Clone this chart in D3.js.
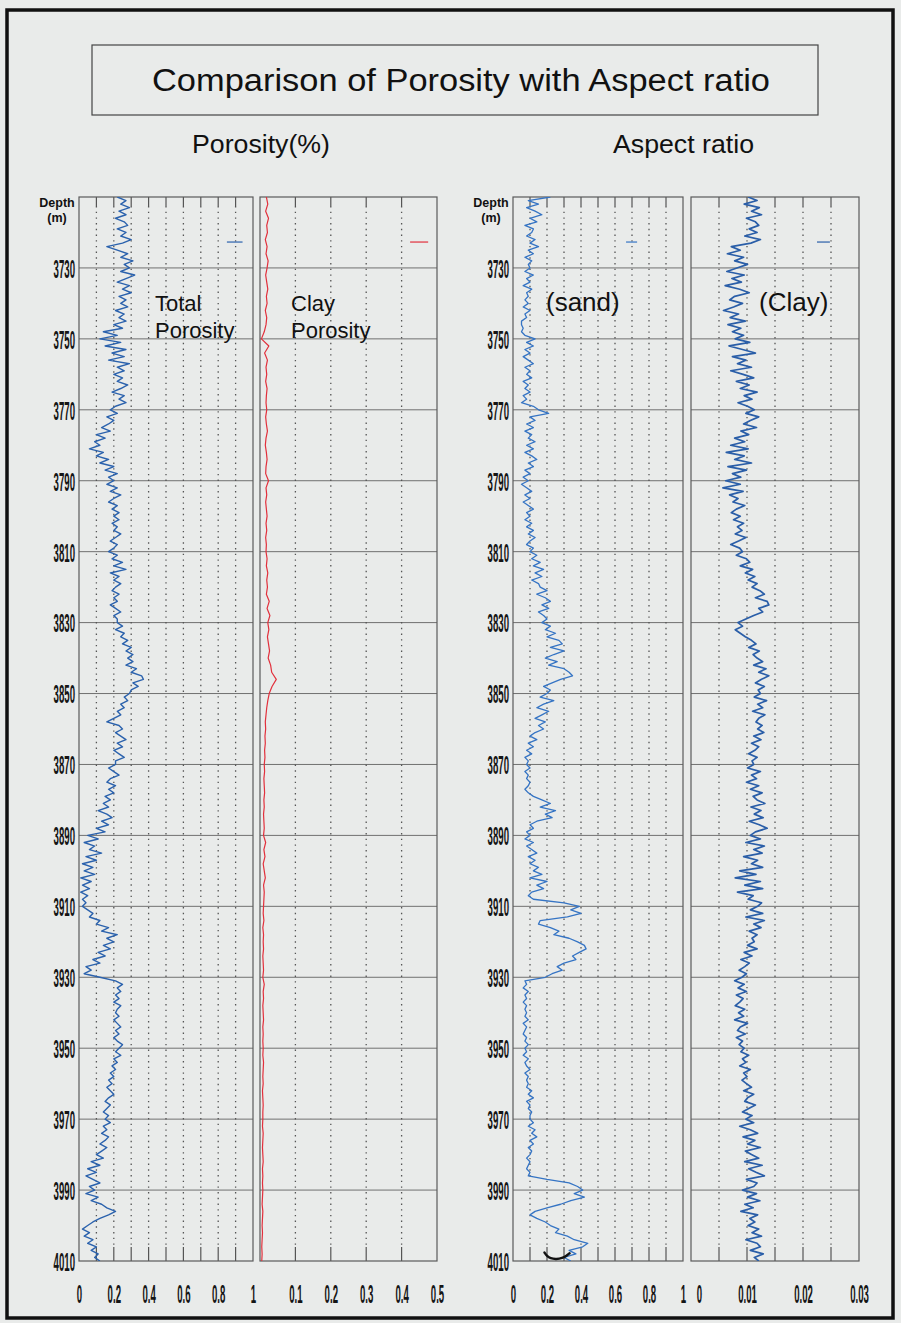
<!DOCTYPE html>
<html lang="en">
<head>
<meta charset="UTF-8">
<title>Comparison of Porosity with Aspect ratio</title>
<style>
  html, body { margin: 0; padding: 0; background: #e9ebea; }
  svg { display: block; font-family: "Liberation Sans", Arial, sans-serif; }
  .grid-h { stroke: #707070; stroke-width: 1; }
  .grid-v { stroke: #555; stroke-width: 1.3; stroke-dasharray: 1.4 4.3; }
  .tick-mark { stroke: #555; stroke-width: 1.2; }
  .track-box { fill: none; stroke: #5a5a5a; stroke-width: 1.2; }
  .num { font-weight: bold; font-size: 26px; fill: #151515; }
</style>
</head>
<body>
<svg width="901" height="1323"></svg>
<script src="https://d3js.org/d3.v7.min.js"></script>
<script>
const width = 901, height = 1323;

// depth sampling (m)
const depth1m = d3.range(3710, 4011, 1);
const depth2m = d3.range(3710, 4011, 2);
const depthTicks = [3730, 3750, 3770, 3790, 3810, 3830, 3850, 3870, 3890, 3910, 3930, 3950, 3970, 3990, 4010];
const depthGrid = [3730, 3750, 3770, 3790, 3810, 3830, 3850, 3870, 3890, 3910, 3930, 3950, 3970, 3990];

// total porosity, 1 m steps from 3710
const totalPorosity = [
  0.22,0.27,0.24,0.29,0.23,0.27,0.21,0.26,0.28,0.22,
  0.27,0.24,0.30,0.25,0.16,0.22,0.28,0.24,0.31,0.26,
  0.29,0.24,0.32,0.27,0.22,0.29,0.25,0.30,0.23,0.27,
  0.24,0.28,0.21,0.26,0.23,0.27,0.20,0.25,0.14,0.22,
  0.12,0.24,0.15,0.27,0.19,0.26,0.17,0.29,0.22,0.26,
  0.20,0.25,0.22,0.28,0.24,0.19,0.26,0.23,0.27,0.21,
  0.18,0.22,0.16,0.20,0.17,0.13,0.18,0.10,0.15,0.09,
  0.12,0.06,0.14,0.10,0.17,0.12,0.20,0.15,0.22,0.17,
  0.20,0.16,0.22,0.18,0.24,0.20,0.17,0.22,0.19,0.23,
  0.20,0.23,0.19,0.22,0.20,0.24,0.21,0.18,0.22,0.20,
  0.17,0.22,0.19,0.25,0.20,0.27,0.18,0.23,0.20,0.24,
  0.21,0.19,0.23,0.20,0.22,0.18,0.21,0.24,0.20,0.22,
  0.22,0.25,0.21,0.26,0.24,0.28,0.25,0.30,0.27,0.31,
  0.28,0.31,0.27,0.33,0.30,0.36,0.37,0.31,0.34,0.30,
  0.29,0.26,0.28,0.24,0.26,0.22,0.24,0.20,0.16,0.23,
  0.25,0.21,0.24,0.27,0.22,0.25,0.20,0.23,0.26,0.21,
  0.21,0.17,0.20,0.23,0.18,0.16,0.21,0.17,0.20,0.15,
  0.18,0.14,0.17,0.11,0.16,0.19,0.13,0.17,0.10,0.15,
  0.05,0.11,0.03,0.09,0.06,0.13,0.04,0.10,0.02,0.08,
  0.03,0.09,0.01,0.07,0.02,0.06,0.01,0.05,0.02,0.04,
  0.02,0.05,0.08,0.06,0.12,0.10,0.17,0.13,0.22,0.16,
  0.20,0.14,0.18,0.11,0.15,0.08,0.12,0.04,0.07,0.03,
  0.12,0.21,0.25,0.22,0.24,0.21,0.23,0.20,0.24,0.22,
  0.21,0.23,0.20,0.22,0.24,0.21,0.23,0.20,0.22,0.25,
  0.23,0.21,0.24,0.20,0.22,0.19,0.21,0.18,0.20,0.17,
  0.19,0.16,0.18,0.20,0.17,0.15,0.18,0.16,0.14,0.17,
  0.15,0.18,0.14,0.16,0.13,0.17,0.15,0.12,0.16,0.13,
  0.10,0.14,0.07,0.12,0.05,0.10,0.04,0.08,0.12,0.06,
  0.09,0.04,0.11,0.07,0.13,0.16,0.21,0.17,0.12,0.08,
  0.05,0.02,0.06,0.03,0.08,0.05,0.10,0.07,0.11,0.09,0.12
];

// clay porosity, 2 m steps from 3710
const clayPorosity = [
  0.018,0.022,0.016,0.024,0.019,0.021,0.015,0.020,0.017,0.023,
  0.020,0.016,0.019,0.022,0.018,0.020,0.015,0.019,0.017,0.012,
  0.004,0.025,0.013,0.021,0.017,0.019,0.016,0.020,0.018,0.017,
  0.019,0.016,0.018,0.021,0.017,0.015,0.018,0.020,0.017,0.016,
  0.024,0.017,0.019,0.016,0.018,0.020,0.017,0.019,0.016,0.018,
  0.017,0.020,0.018,0.022,0.019,0.021,0.018,0.026,0.020,0.028,
  0.022,0.025,0.021,0.024,0.027,0.023,0.030,0.033,0.046,0.034,
  0.026,0.022,0.019,0.017,0.015,0.016,0.014,0.015,0.013,0.014,
  0.012,0.013,0.011,0.012,0.013,0.011,0.012,0.010,0.011,0.012,
  0.010,0.016,0.011,0.014,0.009,0.012,0.015,0.010,0.012,0.011,
  0.010,0.009,0.011,0.008,0.010,0.009,0.010,0.008,0.009,0.010,
  0.008,0.012,0.009,0.010,0.008,0.009,0.010,0.008,0.009,0.008,
  0.009,0.008,0.010,0.009,0.008,0.009,0.007,0.008,0.009,0.008,
  0.008,0.007,0.009,0.008,0.007,0.008,0.009,0.007,0.008,0.007,
  0.008,0.007,0.006,0.008,0.007,0.006,0.007,0.006,0.005,0.006,
  0.005
];

// sand aspect ratio, 1 m steps from 3710
const sandAspect = [
  0.22,0.09,0.15,0.08,0.13,0.17,0.10,0.14,0.07,0.12,
  0.11,0.08,0.13,0.10,0.15,0.09,0.12,0.07,0.11,0.09,
  0.10,0.07,0.12,0.08,0.10,0.06,0.11,0.08,0.09,0.07,
  0.09,0.06,0.10,0.07,0.08,0.05,0.05,0.06,0.05,0.07,
  0.13,0.08,0.12,0.07,0.10,0.06,0.09,0.12,0.07,0.10,
  0.08,0.11,0.06,0.09,0.07,0.10,0.06,0.08,0.05,0.12,
  0.15,0.21,0.10,0.13,0.08,0.12,0.07,0.11,0.09,0.13,
  0.08,0.12,0.07,0.11,0.14,0.09,0.12,0.07,0.10,0.06,
  0.09,0.05,0.08,0.11,0.07,0.10,0.06,0.09,0.12,0.08,
  0.10,0.07,0.11,0.08,0.12,0.09,0.13,0.10,0.08,0.12,
  0.10,0.14,0.11,0.16,0.12,0.18,0.13,0.17,0.11,0.15,
  0.16,0.20,0.14,0.19,0.22,0.17,0.21,0.15,0.18,0.20,
  0.17,0.22,0.19,0.25,0.20,0.27,0.29,0.22,0.30,0.24,
  0.19,0.26,0.21,0.30,0.33,0.35,0.28,0.23,0.18,0.22,
  0.20,0.16,0.24,0.18,0.14,0.21,0.17,0.13,0.19,0.15,
  0.18,0.13,0.10,0.14,0.09,0.12,0.08,0.11,0.07,0.09,
  0.08,0.10,0.07,0.09,0.08,0.10,0.09,0.07,0.09,0.12,
  0.17,0.22,0.16,0.25,0.19,0.23,0.14,0.10,0.12,0.08,
  0.10,0.07,0.12,0.08,0.11,0.14,0.09,0.13,0.10,0.15,
  0.12,0.17,0.10,0.20,0.14,0.18,0.11,0.09,0.12,0.30,
  0.39,0.34,0.40,0.32,0.16,0.15,0.22,0.27,0.24,0.33,
  0.38,0.42,0.43,0.39,0.35,0.37,0.30,0.26,0.29,0.23,
  0.19,0.07,0.08,0.06,0.09,0.07,0.08,0.06,0.08,0.07,
  0.08,0.07,0.09,0.06,0.08,0.07,0.06,0.08,0.07,0.09,
  0.07,0.08,0.06,0.09,0.07,0.08,0.10,0.07,0.09,0.08,
  0.09,0.08,0.11,0.09,0.12,0.08,0.10,0.09,0.11,0.10,
  0.10,0.12,0.09,0.13,0.11,0.14,0.10,0.12,0.09,0.11,
  0.10,0.08,0.10,0.09,0.08,0.10,0.09,0.20,0.33,0.38,
  0.41,0.36,0.42,0.34,0.28,0.20,0.13,0.10,0.14,0.19,
  0.22,0.27,0.25,0.32,0.36,0.44,0.41,0.33,0.37,0.30,0.34
];

// dark mark at the foot of the sand track (depth, value)
const sandMarkDepth = [4007.6, 4008.6, 4009.3, 4009.5, 4009.2, 4008.5, 4007.8];
const sandMarkValue = [0.185, 0.2, 0.22, 0.255, 0.29, 0.315, 0.333];

// clay aspect ratio, 1 m steps from 3710
const clayAspect = [
  0.0102,0.0118,0.0095,0.0122,0.0108,0.0126,0.0099,0.0115,0.0121,0.0104,
  0.0118,0.0096,0.0124,0.0107,0.0072,0.0088,0.0065,0.0094,0.0078,0.0101,
  0.0082,0.0064,0.0095,0.0073,0.0090,0.0061,0.0087,0.0104,0.0078,0.0069,
  0.0092,0.0076,0.0058,0.0085,0.0070,0.0097,0.0066,0.0089,0.0074,0.0094,
  0.0079,0.0105,0.0068,0.0092,0.0115,0.0074,0.0098,0.0083,0.0108,0.0071,
  0.0093,0.0112,0.0081,0.0104,0.0088,0.0118,0.0095,0.0109,0.0084,0.0101,
  0.0113,0.0098,0.0121,0.0106,0.0094,0.0117,0.0089,0.0103,0.0078,0.0096,
  0.0071,0.0102,0.0063,0.0095,0.0078,0.0108,0.0066,0.0099,0.0074,0.0089,
  0.0062,0.0088,0.0057,0.0093,0.0069,0.0084,0.0075,0.0096,0.0081,0.0072,
  0.0088,0.0076,0.0094,0.0083,0.0091,0.0079,0.0098,0.0085,0.0071,0.0087,
  0.0092,0.0081,0.0099,0.0105,0.0088,0.0110,0.0097,0.0114,0.0102,0.0118,
  0.0109,0.0123,0.0131,0.0115,0.0136,0.0139,0.0121,0.0128,0.0112,0.0098,
  0.0084,0.0092,0.0079,0.0088,0.0097,0.0108,0.0116,0.0103,0.0122,0.0111,
  0.0118,0.0128,0.0112,0.0134,0.0121,0.0139,0.0126,0.0115,0.0131,0.0120,
  0.0124,0.0113,0.0135,0.0119,0.0128,0.0110,0.0132,0.0121,0.0116,0.0127,
  0.0119,0.0130,0.0112,0.0125,0.0108,0.0121,0.0114,0.0103,0.0118,0.0109,
  0.0112,0.0101,0.0124,0.0108,0.0117,0.0099,0.0121,0.0106,0.0127,0.0111,
  0.0118,0.0132,0.0107,0.0125,0.0113,0.0129,0.0104,0.0122,0.0136,0.0115,
  0.0106,0.0124,0.0098,0.0131,0.0112,0.0127,0.0094,0.0119,0.0108,0.0128,
  0.0087,0.0116,0.0079,0.0124,0.0096,0.0128,0.0083,0.0111,0.0102,0.0126,
  0.0119,0.0106,0.0128,0.0098,0.0131,0.0112,0.0125,0.0104,0.0118,0.0109,
  0.0113,0.0101,0.0118,0.0095,0.0109,0.0089,0.0104,0.0096,0.0086,0.0099,
  0.0091,0.0078,0.0095,0.0084,0.0099,0.0081,0.0093,0.0087,0.0079,0.0096,
  0.0085,0.0094,0.0078,0.0101,0.0088,0.0083,0.0097,0.0081,0.0092,0.0086,
  0.0095,0.0089,0.0103,0.0092,0.0098,0.0087,0.0106,0.0094,0.0100,0.0091,
  0.0099,0.0108,0.0094,0.0112,0.0101,0.0096,0.0115,0.0103,0.0092,0.0109,
  0.0098,0.0112,0.0087,0.0106,0.0119,0.0093,0.0114,0.0101,0.0124,0.0097,
  0.0108,0.0121,0.0096,0.0127,0.0103,0.0116,0.0131,0.0099,0.0118,0.0112,
  0.0092,0.0117,0.0101,0.0123,0.0096,0.0111,0.0089,0.0119,0.0105,0.0114,
  0.0102,0.0121,0.0109,0.0126,0.0098,0.0118,0.0124,0.0106,0.0129,0.0113,0.0121
];

// x-axis grid / labels per track
const porosityGrid = [0.1, 0.2, 0.3, 0.4, 0.5, 0.6, 0.7, 0.8, 0.9];
const porosityLabels = [0, 0.2, 0.4, 0.6, 0.8, 1];
const clayPorGrid = [0.1, 0.2, 0.3, 0.4];
const clayPorLabels = [0.1, 0.2, 0.3, 0.4, 0.5];
const sandGrid = [0.1, 0.2, 0.3, 0.4, 0.5, 0.6, 0.7, 0.8, 0.9];
const sandLabels = [0, 0.2, 0.4, 0.6, 0.8, 1];
const clayArGrid = [0.005, 0.01, 0.015, 0.02, 0.025];
const clayArLabels = [0, 0.01, 0.02, 0.03];

const svg = d3.select("svg").attr("width", width).attr("height", height);

const yTop = 197, yBottom = 1261;
const y = d3.scaleLinear().domain([3710, 4010]).range([yTop, yBottom]);

// outer frame
svg.append("rect").attr("x", 7).attr("y", 10).attr("width", 886).attr("height", 1308)
  .attr("fill", "none").attr("stroke", "#111").attr("stroke-width", 3.5);

// title box
svg.append("rect").attr("x", 92).attr("y", 45).attr("width", 726).attr("height", 70)
  .attr("fill", "none").attr("stroke", "#444").attr("stroke-width", 1.2);
svg.append("text").attr("x", 152).attr("y", 91)
  .attr("font-size", 31).attr("fill", "#111")
  .attr("textLength", 618).attr("lengthAdjust", "spacingAndGlyphs")
  .text("Comparison of Porosity with Aspect ratio");

svg.append("text").attr("x", 192).attr("y", 153).attr("font-size", 25).attr("fill", "#111")
  .attr("textLength", 138).attr("lengthAdjust", "spacingAndGlyphs").text("Porosity(%)");
svg.append("text").attr("x", 613).attr("y", 153).attr("font-size", 25).attr("fill", "#111")
  .attr("textLength", 141).attr("lengthAdjust", "spacingAndGlyphs").text("Aspect ratio");

const tracks = [
  { id: "tp", range: [79, 253], domain: [0, 1], grid: porosityGrid, labels: porosityLabels,
    depth: depth1m, values: totalPorosity, color: "#2b62ad", width: 1.4, stub: [0.85, 0.94] },
  { id: "cp", range: [260, 437], domain: [0, 0.5], grid: clayPorGrid, labels: clayPorLabels,
    depth: depth2m, values: clayPorosity, color: "#e2303c", width: 1.2, stub: [0.424, 0.475] },
  { id: "sa", range: [513, 683], domain: [0, 1], grid: sandGrid, labels: sandLabels,
    depth: depth1m, values: sandAspect, color: "#3574c4", width: 1.3, stub: [0.665, 0.73] },
  { id: "ca", range: [691, 859], domain: [0, 0.03], grid: clayArGrid, labels: clayArLabels,
    depth: depth1m, values: clayAspect, color: "#2a5ea8", width: 1.7, stub: [0.0225, 0.0248] }
];

tracks.forEach(t => {
  const x = d3.scaleLinear().domain(t.domain).range(t.range);
  const g = svg.append("g").attr("class", "track");

  // horizontal depth grid
  g.selectAll(".grid-h").data(depthGrid).enter().append("line")
    .attr("class", "grid-h")
    .attr("x1", t.range[0]).attr("x2", t.range[1])
    .attr("y1", d => y(d)).attr("y2", d => y(d));

  // dotted vertical grid + short ticks top/bottom
  g.selectAll(".grid-v").data(t.grid).enter().append("line")
    .attr("class", "grid-v")
    .attr("x1", d => x(d)).attr("x2", d => x(d))
    .attr("y1", yTop + 9).attr("y2", yBottom - 14);
  g.selectAll(".tick-top").data(t.grid).enter().append("line")
    .attr("class", "tick-mark")
    .attr("x1", d => x(d)).attr("x2", d => x(d)).attr("y1", yTop).attr("y2", yTop + 9);
  g.selectAll(".tick-bot").data(t.grid).enter().append("line")
    .attr("class", "tick-mark")
    .attr("x1", d => x(d)).attr("x2", d => x(d)).attr("y1", yBottom - 14).attr("y2", yBottom);

  g.append("rect").attr("class", "track-box")
    .attr("x", t.range[0]).attr("y", yTop)
    .attr("width", t.range[1] - t.range[0]).attr("height", yBottom - yTop);

  // log curve
  const pts = t.values.map((v, i) => [v, t.depth[i]]).filter(p => p[1] !== undefined);
  svg.append("clipPath").attr("id", "clip-" + t.id).append("rect")
    .attr("x", t.range[0]).attr("y", yTop)
    .attr("width", t.range[1] - t.range[0]).attr("height", yBottom - yTop);
  const line = d3.line().x(p => x(p[0])).y(p => y(p[1]));
  g.append("path").datum(pts)
    .attr("clip-path", "url(#clip-" + t.id + ")")
    .attr("fill", "none").attr("stroke", t.color).attr("stroke-width", t.width)
    .attr("stroke-linejoin", "round").attr("d", line);

  // legend stub
  g.append("line")
    .attr("x1", x(t.stub[0])).attr("x2", x(t.stub[1]))
    .attr("y1", y(3722.7)).attr("y2", y(3722.7))
    .attr("stroke", t.color).attr("stroke-width", 1.2);

  // bottom labels
  const ax = svg.append("g").attr("transform", `translate(0,1294)`)
    .call(d3.axisBottom(x).tickValues(t.labels).tickSize(0).tickPadding(0).tickFormat(d => String(d)));
  ax.select(".domain").remove();
  ax.attr("font-family", null).attr("font-size", null);
  ax.selectAll("text").attr("class", "num").attr("y", 0).attr("dy", "0.36em")
    .attr("transform", d => (t.id === "ca" && d === 0) ? "translate(8,0) scale(0.37,1)" : "scale(0.37,1)");

  if (t.id === "sa") {
    const markPts = sandMarkValue.map((v, i) => [v, sandMarkDepth[i]]);
    g.append("path").datum(markPts)
      .attr("fill", "none").attr("stroke", "#111").attr("stroke-width", 2.4)
      .attr("stroke-linecap", "round")
      .attr("d", d3.line().x(p => x(p[0])).y(p => y(p[1])).curve(d3.curveBasis));
  }
});

// depth axes
[79, 513].forEach(x0 => {
  const ax = svg.append("g").attr("transform", `translate(${x0 - 4},0)`)
    .call(d3.axisLeft(y).tickValues(depthTicks).tickSize(0).tickPadding(0).tickFormat(d3.format("d")));
  ax.select(".domain").remove();
  ax.attr("font-family", null).attr("font-size", null);
  ax.selectAll("text").attr("class", "num").attr("x", 0).attr("dy", "0.36em")
    .attr("transform", "scale(0.37,1)");

  const lbl = svg.append("g").attr("font-weight", "bold").attr("fill", "#111").attr("text-anchor", "middle");
  lbl.append("text").attr("x", x0 - 22).attr("y", 207).attr("font-size", 12.5).text("Depth");
  lbl.append("text").attr("x", x0 - 22).attr("y", 222).attr("font-size", 12.5).text("(m)");
});

// in-track captions
const cap = svg.append("g").attr("fill", "#111");
cap.append("text").attr("x", 155).attr("y", 311).attr("font-size", 22).text("Total");
cap.append("text").attr("x", 155).attr("y", 338).attr("font-size", 22).text("Porosity");
cap.append("text").attr("x", 291).attr("y", 311).attr("font-size", 22).text("Clay");
cap.append("text").attr("x", 291).attr("y", 338).attr("font-size", 22).text("Porosity");
cap.append("text").attr("x", 546).attr("y", 311).attr("font-size", 26).text("(sand)");
cap.append("text").attr("x", 759).attr("y", 311).attr("font-size", 26).text("(Clay)");
</script>
</body>
</html>
